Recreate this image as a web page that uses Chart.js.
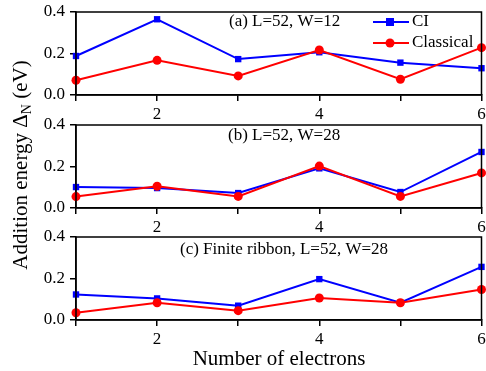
<!DOCTYPE html>
<html><head><meta charset="utf-8">
<script src="https://cdn.jsdelivr.net/npm/chart.js@4.4.1/dist/chart.umd.min.js"></script>
<style>
html,body{margin:0;padding:0;background:#fff;}
#wrap{position:relative;width:486px;height:371px;}
.pc{position:absolute;left:0;top:0;width:486px;height:371px;}
</style></head>
<body><div id="wrap">
<div class="pc"><canvas id="ca"></canvas></div>
<div class="pc"><canvas id="cb"></canvas></div>
<div class="pc"><canvas id="cc"></canvas></div>
</div>
<script>
const electrons = [1, 2, 3, 4, 5, 6];
const ciA = [0.188, 0.365, 0.173, 0.206, 0.156, 0.129];
const classicalA = [0.071, 0.167, 0.092, 0.217, 0.076, 0.228];
const ciB = [0.101, 0.096, 0.072, 0.191, 0.077, 0.270];
const classicalB = [0.055, 0.105, 0.056, 0.202, 0.056, 0.169];
const ciC = [0.123, 0.104, 0.069, 0.197, 0.083, 0.256];
const classicalC = [0.035, 0.083, 0.045, 0.106, 0.083, 0.147];
const panelLabels = ["(a) L=52, W=12", "(b) L=52, W=28", "(c) Finite ribbon, L=52, W=28"];
const seriesNames = ["CI", "Classical"];
const xTitle = "Number of electrons";
const yTitleParts = ["Addition energy Δ", "N", " (eV)"];

const FONT = "'Liberation Serif', 'Times New Roman', serif";
const BLUE = '#0000ff', RED = '#ff0000';

function pts(vals){ return vals.map((v,i)=>({x:electrons[i], y:v})); }

const framePlugin = {
  id:'frame',
  afterDatasetsDraw(chart, args, opts){
    const a = chart.chartArea, ctx = chart.ctx;
    ctx.save();
    ctx.strokeStyle = '#000'; ctx.lineWidth = 1.5;
    ctx.strokeRect(a.left, a.top, a.right-a.left, a.bottom-a.top);
    ctx.fillStyle = '#000';
    ctx.font = '17px ' + FONT;
    ctx.textBaseline = 'middle'; ctx.textAlign = 'left';
    ctx.fillText(opts.label, opts.lx, opts.ly);
    if (opts.legend) {
      const items = [[BLUE,'rect',seriesNames[0],22],[RED,'circle',seriesNames[1],43]];
      items.forEach(([c,st,t,y])=>{
        ctx.strokeStyle = c; ctx.lineWidth = 2;
        ctx.beginPath(); ctx.moveTo(373,y); ctx.lineTo(409,y); ctx.stroke();
        ctx.fillStyle = c;
        if (st==='rect') ctx.fillRect(386,y-4,8,8);
        else { ctx.beginPath(); ctx.arc(390,y,4.5,0,Math.PI*2); ctx.fill(); }
        ctx.fillStyle = '#000';
        ctx.fillText(t, 412, y);
      });
    }
    if (opts.titles) {
      ctx.textAlign = 'center';
      ctx.font = '21px ' + FONT;
      ctx.fillText(xTitle, 279, 359);
      ctx.translate(20, 165);
      ctx.rotate(-Math.PI/2);
      const f1 = '21px ' + FONT, f2 = '14px ' + FONT;
      ctx.font = f1; const w1 = ctx.measureText(yTitleParts[0]).width;
      const w3 = ctx.measureText(yTitleParts[2]).width;
      ctx.font = f2; const w2 = ctx.measureText(yTitleParts[1]).width;
      const tot = w1+w2+w3;
      let x = -tot/2;
      ctx.textAlign = 'left'; ctx.textBaseline = 'alphabetic';
      ctx.font = f1; ctx.fillText(yTitleParts[0], x, 7); x += w1;
      ctx.font = f2; ctx.fillText(yTitleParts[1], x, 11); x += w2;
      ctx.font = f1; ctx.fillText(yTitleParts[2], x, 7);
    }
    ctx.restore();
  }
};

const XH = 30;
function makeChart(id, ci, cl, top, bottom, frameOpts){
  return new Chart(document.getElementById(id), {
    type:'line',
    data:{datasets:[
      {label:seriesNames[0], data:pts(ci), borderColor:BLUE, backgroundColor:BLUE, borderWidth:2,
       pointStyle:'rect', pointRadius:4.5, pointBorderWidth:0, order:1, clip:false},
      {label:seriesNames[1], data:pts(cl), borderColor:RED, backgroundColor:RED, borderWidth:2,
       pointStyle:'circle', pointRadius:4.5, pointBorderWidth:0, order:0, clip:false}
    ]},
    options:{
      responsive:false, animation:false, events:[],
      layout:{padding:{left:0, right:3, top:top, bottom:371-bottom-XH}},
      plugins:{legend:{display:false}, tooltip:{enabled:false}, frame:frameOpts},
      scales:{
        x:{type:'linear', min:1, max:6,
           ticks:{stepSize:1, color:'#000', padding:3, maxRotation:0, autoSkip:false,
                  font:{family:FONT, size:17},
                  callback:(v)=> (v%2===0 ? String(v) : '')},
           grid:{drawOnChartArea:false, drawTicks:true, tickLength:6, color:'#000', lineWidth:1.5},
           border:{display:true, color:'#000', width:1.5},
           afterFit(s){ s.height = XH; s.paddingLeft = 0; s.paddingRight = 0; }
        },
        y:{min:0, max:0.4,
           ticks:{stepSize:0.1, color:'#000', padding:5, font:{family:FONT, size:17},
                  callback:(v)=> (Math.round(v*10)%2===0 ? v.toFixed(1) : '')},
           grid:{drawOnChartArea:false, drawTicks:true, tickLength:6, color:'#000', lineWidth:1.5},
           border:{display:true, color:'#000', width:1.5},
           afterFit(s){ s.width = 76; s.paddingTop = 0; s.paddingBottom = 0; }
        }
      }
    },
    plugins:[framePlugin]
  });
}
['ca','cb','cc'].forEach((id)=>{ const c=document.getElementById(id); c.width=486; c.height=371; });
makeChart('ca', ciA, classicalA, 12, 95, {label:panelLabels[0], lx:229, ly:22, legend:true, titles:true});
makeChart('cb', ciB, classicalB, 125, 208, {label:panelLabels[1], lx:228, ly:136});
makeChart('cc', ciC, classicalC, 237, 320, {label:panelLabels[2], lx:180, ly:250});
</script>
</body></html>
